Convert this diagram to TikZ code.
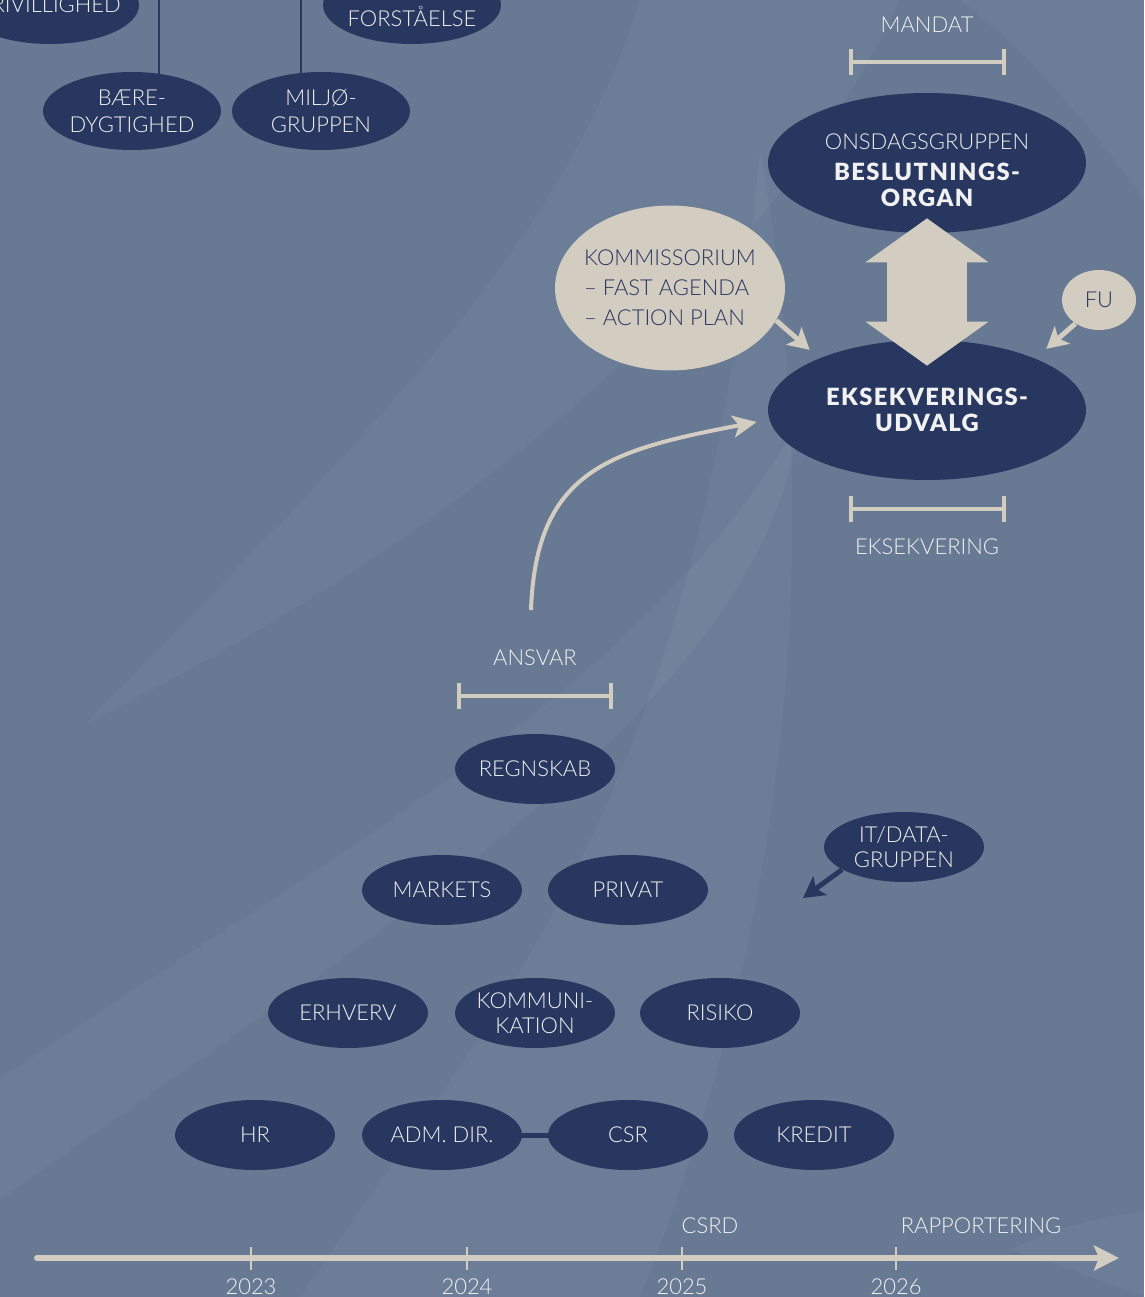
\documentclass[tikz,border=0pt]{standalone}
\usepackage{fontspec}
\setmainfont{Lato}[UprightFont={* Light}, BoldFont={* Black}]
\usetikzlibrary{shapes.geometric}
\usetikzlibrary{arrows.meta}
\usetikzlibrary{calc}
\definecolor{mbg}{HTML}{677993}
\definecolor{mnavy}{HTML}{28375F}
\definecolor{msand}{HTML}{D2CCC1}
\definecolor{mwhite}{HTML}{F1F1F1}
\newcommand{\heavytext}{\fontsize{13.5}{15}\selectfont\bfseries\addfontfeatures{LetterSpace=6}}
\tikzset{unit/.style = {ellipse, fill=mnavy, text=mwhite, inner xsep=-8pt, inner ysep=-2pt,
                        minimum width=3.2cm, minimum height=1.4cm, align=center,
                        font=\fontsize{12.5}{14.5}\selectfont}}
\tikzset{pair/.style = {unit, minimum width=3.56cm, minimum height=1.56cm,
                        font=\fontsize{12.5}{15.5}\selectfont}}
\tikzset{board/.style = {unit, minimum width=6.36cm, minimum height=2.8cm,
                         font=\heavytext}}
\tikzset{bubble/.style = {ellipse, fill=msand, text=mnavy, inner sep=-6pt, align=left,
                          font=\fontsize{12.5}{17}\selectfont}}
\tikzset{caption/.style = {text=mwhite, inner sep=0pt, font=\fontsize{12.5}{15}\selectfont}}
\tikzset{span/.style = {msand, line width=0.08cm, {Bar[width=0.52cm]}-{Bar[width=0.52cm]}}}
\tikzset{pointer/.style = {line width=0.1cm, -{Stealth[length=0.42cm, width=0.46cm, inset=0.1cm]}}}
\tikzset{swoosh/.style = {fill=white, fill opacity=0.04}}

\begin{document}
\begin{tikzpicture}[x=0.02cm, y=-0.02cm]
  \useasboundingbox (0, 0) rectangle (1144, 1297);
  \fill [mbg] (0, 0) rectangle (1144, 1297);

  % background swooshes
  \begin{scope}
    \clip (0, 0) rectangle (1144, 1297);
    \fill [swoosh] (88, 722) .. controls (330, 470) and (560, 260) .. (640, 0)
                   -- (900, 0) .. controls (760, 300) and (420, 560) .. cycle;
    \fill [swoosh] (0, 1080) .. controls (300, 870) and (640, 700) .. (800, 420)
                   .. controls (760, 700) and (420, 900) .. (0, 1200) -- cycle;
    \fill [swoosh] (300, 1297) .. controls (500, 1000) and (700, 800) .. (760, 150)
                   .. controls (840, 600) and (760, 1000) .. (640, 1297) -- cycle;
    \fill [swoosh] (960, 0) .. controls (1040, 60) and (1100, 140) .. (1144, 200)
                   -- (1144, 0) -- cycle;
    \fill [swoosh] (1010, 1250) .. controls (1060, 1225) and (1110, 1215) .. (1144, 1212)
                   -- (1144, 1297) .. controls (1100, 1280) and (1060, 1265) .. cycle;
  \end{scope}

  % top row, cut by the edge
  \draw [mnavy, line width=0.04cm] (159, 0) -- (159, 80);
  \draw [mnavy, line width=0.04cm] (301, 0) -- (301, 80);
  \node [pair] (frivillig) at (50, 5) {FRIVILLIGHED};
  \node [pair] (forstaa) at (412, 5) {};
  \node [caption] (forstaatext) at (412, 16) {FORSTÅELSE};
  \node [pair] (baere) at (132, 111) {BÆRE-\\DYGTIGHED};
  \node [pair] (miljoe) at (321, 111) {MILJØ-\\GRUPPEN};

  % board and executive committee
  \node [caption] (mandat) at (927, 25) {MANDAT};
  \draw [span] ($(mandat)+(-78, 37)$) -- ($(mandat)+(79, 37)$);
  \node [board] (onsdag) at (927, 163) {};
  \node [caption, align=center] (onsdagtext) at (927, 170.5)
    {ONSDAGSGRUPPEN\\[2.3pt]{\heavytext BESLUTNINGS-}\\{\heavytext ORGAN}};
  \node [board] (eksek) at (927, 410) {EKSEKVERINGS-\\UDVALG};
  \draw [msand, line width=1.6cm,
         {Triangle[width=2.42cm, length=0.88cm]}-{Triangle[width=2.42cm, length=0.88cm]}]
    ($(onsdag.south)+(0, -15)$) -- ($(eksek.north)+(0, 26)$);
  \node [caption] (eksekvering) at (927, 547) {EKSEKVERING};
  \draw [span] ($(eksekvering)+(-78, -38)$) -- ($(eksekvering)+(79, -38)$);

  \node [bubble, minimum width=4.6cm, minimum height=3.3cm] (kommis) at (670, 288)
    {KOMMISSORIUM\\– FAST AGENDA\\– ACTION PLAN};
  \node [bubble, minimum width=1.48cm, minimum height=1.2cm, align=center] (fu) at (1099, 300) {FU};
  \draw [pointer, msand] (kommis.-17) -- ($(eksek.153)+(-13, -7)$);
  \draw [pointer, msand] (fu.225) -- ($(eksek.27)+(15, -8)$);

  % responsibility
  \node [caption] (ansvar) at (535, 658) {ANSVAR};
  \draw [span] ($(ansvar)+(-78, 38)$) -- ($(ansvar)+(78, 38)$);
  \coordinate (ansvartop) at (531, 610);
  \draw [msand, line width=0.08cm, -{Stealth[length=0.48cm, width=0.44cm, inset=0.12cm]}]
    (ansvartop) .. controls (536, 470) and (610, 450) .. ($(eksek.west)+(-11, 12)$);

  % departments
  \node [unit] (regnskab) at (535, 769) {REGNSKAB};
  \node [unit] (markets) at (442, 890) {MARKETS};
  \node [unit] (privat) at (628, 890) {PRIVAT};
  \node [unit] (erhverv) at (348, 1013) {ERHVERV};
  \node [unit] (kommunikation) at (535, 1013) {KOMMUNI-\\KATION};
  \node [unit] (risiko) at (720, 1013) {RISIKO};
  \draw [mnavy, line width=0.1cm] (442, 1135) -- (628, 1135);
  \node [unit] (hr) at (255, 1135) {HR};
  \node [unit] (admdir) at (442, 1135) {ADM. DIR.};
  \node [unit] (csr) at (628, 1135) {CSR};
  \node [unit] (kredit) at (814, 1135) {KREDIT};
  \node [unit] (itdata) at (904, 847) {IT/DATA-\\GRUPPEN};
  \coordinate (itend) at (803, 898);
  \draw [pointer, mnavy] (itdata.200) -- (itend);

  % time line
  \coordinate (tstart) at (37, 1258);
  \coordinate (tend) at (1119, 1258);
  \draw [msand, line width=0.12cm, line cap=round,
         -{Stealth[length=0.5cm, width=0.5cm, inset=0.1cm]}] (tstart) -- (tend);
  \foreach \x/\year in {251/2023, 467/2024, 682/2025, 896/2026} {
    \draw [msand, line width=0.04cm] (\x, 1247) -- (\x, 1270);
    \node [caption] (y\year) at (\x, 1287) {\year};
  }
  \node [caption] (csrd) at (710, 1226) {CSRD};
  \node [caption] (rapport) at (981, 1226) {RAPPORTERING};
\end{tikzpicture}
\end{document}
